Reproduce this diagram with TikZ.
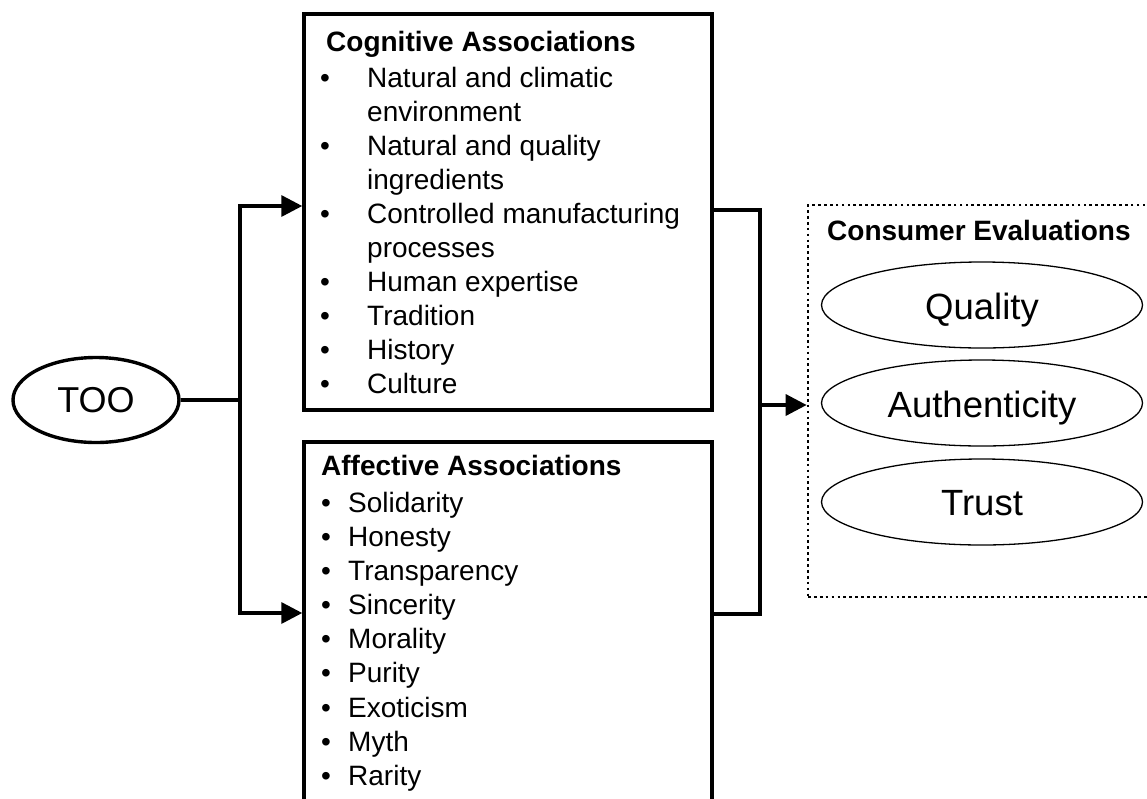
\documentclass[tikz,border=0pt]{standalone}
\usepackage{fontspec}
\setmainfont{Liberation Sans}
\usetikzlibrary{arrows.meta,shapes.geometric}
\tikzset{
  box/.style={draw, rectangle, line width=3.5pt, inner sep=0pt},
  dotbox/.style={draw, rectangle, line width=2.7pt, dash pattern=on 2.7pt off 3.2pt, line cap=butt, inner sep=0pt},
  conn/.style={line width=3.5pt},
  arr/.style={conn, -{Triangle[length=21pt,width=21pt]}},
  lst/.style={anchor=base west, inner sep=0pt, font=\fontsize{28}{34}\selectfont},
  hd/.style={anchor=base west, inner sep=0pt, font=\fontsize{28}{34}\selectfont\bfseries},
  evel/.style={ellipse, draw, line width=1.3pt, minimum width=321pt, minimum height=86pt, inner sep=0pt},
  big/.style={anchor=base, inner sep=0pt, font=\fontsize{36.5}{40}\selectfont},
  tooel/.style={ellipse, draw, line width=3.4pt, minimum width=166pt, minimum height=85pt, inner sep=0pt, font=\fontsize{36}{40}\selectfont},
}
\begin{document}
\begin{tikzpicture}[x=1pt,y=-1pt]
\clip (0,0) rectangle (1147,798);
\fill[white] (0,0) rectangle (1147,798);

% boxes
\node[box, minimum width=408pt, minimum height=396pt] (cog) at (508,212) {};
\node[box, minimum width=408pt, minimum height=420pt] (aff) at (508,652) {};
\node[dotbox, minimum width=362pt, minimum height=392pt] (ce) at (989,401) {};

% TOO
\node[tooel] (too) at (96,400) {TOO};

% cognitive text
\node[hd] (chd) at (326,51) {Cognitive Associations};
\node[lst] (c1) at (320,87)    {\makebox[47pt][l]{•}Natural and climatic};
\node[lst] (c2) at (367,121.1) {environment};
\node[lst] (c3) at (320,155.2) {\makebox[47pt][l]{•}Natural and quality};
\node[lst] (c4) at (367,189.3) {ingredients};
\node[lst] (c5) at (320,223.4) {\makebox[47pt][l]{•}Controlled manufacturing};
\node[lst] (c6) at (367,257.5) {processes};
\node[lst] (c7) at (320,291.6) {\makebox[47pt][l]{•}Human expertise};
\node[lst] (c8) at (320,325.7) {\makebox[47pt][l]{•}Tradition};
\node[lst] (c9) at (320,359.8) {\makebox[47pt][l]{•}History};
\node[lst] (c10) at (320,393.9) {\makebox[47pt][l]{•}Culture};

% affective text
\node[hd] (ahd) at (321,475) {Affective Associations};
\node[lst] (a1) at (321,512)   {\makebox[27pt][l]{•}Solidarity};
\node[lst] (a2) at (321,546)   {\makebox[27pt][l]{•}Honesty};
\node[lst] (a3) at (321,580)   {\makebox[27pt][l]{•}Transparency};
\node[lst] (a4) at (321,614)   {\makebox[27pt][l]{•}Sincerity};
\node[lst] (a5) at (321,648)   {\makebox[27pt][l]{•}Morality};
\node[lst] (a6) at (321,682.5) {\makebox[27pt][l]{•}Purity};
\node[lst] (a7) at (321,717)   {\makebox[27pt][l]{•}Exoticism};
\node[lst] (a8) at (321,751)   {\makebox[27pt][l]{•}Myth};
\node[lst] (a9) at (321,785)   {\makebox[27pt][l]{•}Rarity};

% consumer evaluations
\node[hd] (cehd) at (827,240) {Consumer Evaluations};
\node[evel] (q) at (982,305) {};
\node[evel] (au) at (982,403) {};
\node[evel] (tr) at (982,502) {};
\node[big] (qt) at (982,319) {Quality};
\node[big] (aut) at (982,417) {Authenticity};
\node[big] (trt) at (982,515) {Trust};

% connectors
\coordinate (jl) at (240,400);
\coordinate (jlt) at (240,206);
\coordinate (jlb) at (240,613);
\draw[conn] (too.east) -- (jl);
\draw[arr] (jl) -- (jlt) -- (cog.west |- jlt);
\draw[arr] (jl) -- (jlb) -- (aff.west |- jlb);

\coordinate (rt) at (760,210);
\coordinate (rb) at (760,614);
\coordinate (rm) at (760,405);
\draw[conn] (cog.east |- rt) -- (rt) -- (rb) -- (aff.east |- rb);
\draw[arr] (rm) -- (ce.west |- rm);
\end{tikzpicture}
\end{document}
